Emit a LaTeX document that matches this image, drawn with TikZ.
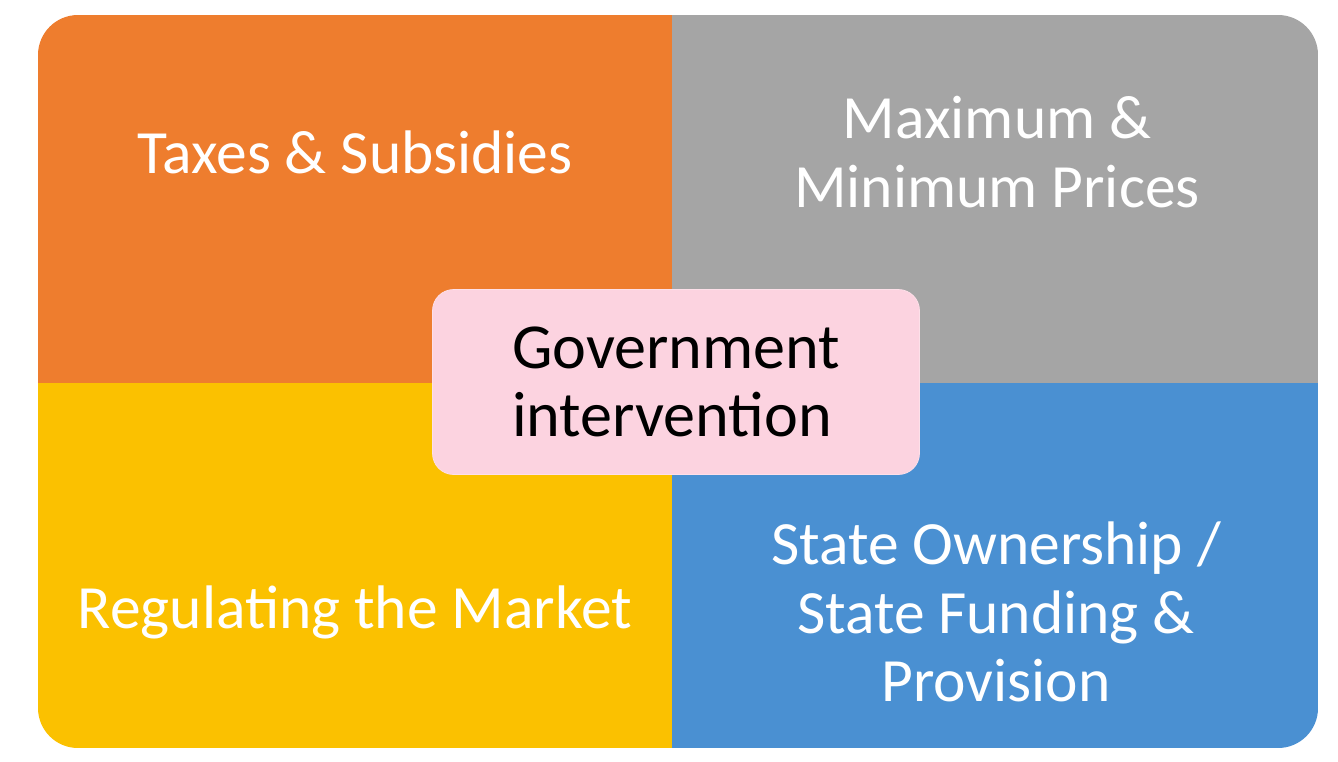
\documentclass[tikz,border=0pt]{standalone}
\usepackage{fontspec}
\setmainfont{Carlito}
\definecolor{taxorange}{HTML}{EE7D2E}
\definecolor{pricegray}{HTML}{A5A5A5}
\definecolor{ruleyellow}{HTML}{FBC100}
\definecolor{stateblue}{HTML}{4A90D2}
\definecolor{govpink}{HTML}{FCD3E0}
\tikzset{
  quadtext/.style={text=white, align=center, font=\fontsize{35}{39}\selectfont},
  govbox/.style={fill=govpink, draw=govpink!70!white, rounded corners=12pt,
    minimum width=487*0.02cm, minimum height=185*0.02cm, align=left,
    font=\fontsize{36.5}{38.5}\selectfont, text=black}
}
\begin{document}
\begin{tikzpicture}[x=0.02cm, y=-0.02cm]
  \useasboundingbox[fill=white] (0, 0) rectangle (1338, 761);
  %%%%% QUADRANTS %%%%%
  \begin{scope}
    \clip[rounded corners=40*0.02cm] (38, 15) rectangle (1318, 748);
    \fill[taxorange] (38, 15) rectangle (672, 383);
    \fill[pricegray] (672, 15) rectangle (1318, 383);
    \fill[ruleyellow] (38, 383) rectangle (672, 748);
    \fill[stateblue] (672, 383) rectangle (1318, 748);
  \end{scope}
  %%%%% LABELS %%%%%
  \node[quadtext] (taxes) at (355, 152) {Taxes \& Subsidies};
  \node[quadtext] (maxmin) at (997, 152) {Maximum \&\\Minimum Prices};
  \node[quadtext] (regulate) at (355, 612) {Regulating the Market};
  \node[quadtext] (state) at (996, 612) {State Ownership /\\State Funding \&\\Provision};
  %%%%% CENTRE %%%%%
  \node[govbox] (gov) at (676, 382) {Government\\intervention};
\end{tikzpicture}
\end{document}
